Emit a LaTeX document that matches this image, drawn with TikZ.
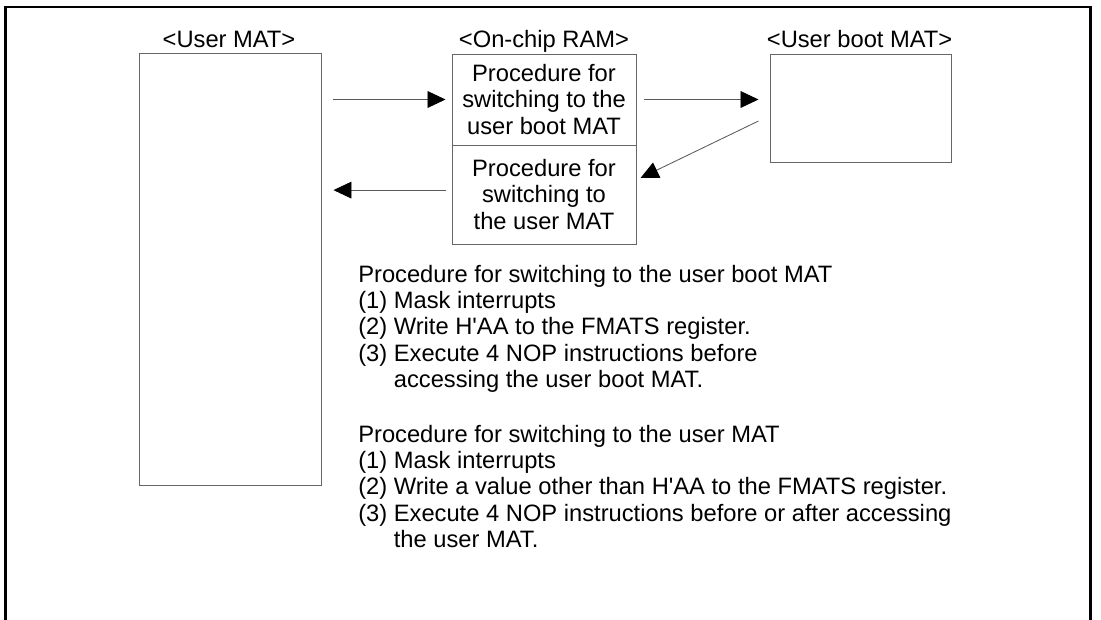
\documentclass[tikz,border=0pt]{standalone}
\usepackage{fontspec}
\setmainfont{Liberation Sans}
\usetikzlibrary{arrows.meta,positioning}

\begin{document}
\begin{tikzpicture}[
  every node/.style={font=\fontsize{16.87pt}{18.7pt}\selectfont},
  box/.style={draw=black!60, line width=0.7pt, align=center, inner sep=0pt},
  note/.style={align=left, inner sep=0pt, anchor=north west},
  flow/.style={draw=black!65, line width=0.6pt, -{Triangle[length=0.45cm, width=0.42cm, color=black]}}]
\useasboundingbox (0,0) rectangle (27.525,-15.5);

% memory areas
\node[box, minimum width=4.55cm, minimum height=10.8cm] (usermat) at (5.75,-6.725) {};
\node[box, minimum width=4.6cm, minimum height=2.275cm] (ramtop) at (13.6,-2.4875) {Procedure for\\switching to the\\user boot MAT};
\node[box, minimum width=4.6cm, minimum height=2.475cm] (rambot) at (13.6,-4.8625) {Procedure for\\switching to\\the user MAT};
\node[box, minimum width=4.525cm, minimum height=2.7cm] (bootmat) at (21.5125,-2.7) {};

\node[anchor=base] (usermatlbl) at (5.725,-1.175) {<User MAT>};
\node[anchor=base] (ramlbl) at (13.6,-1.175) {<On-chip RAM>};
\node[anchor=base] (bootmatlbl) at (21.49,-1.175) {<User boot MAT>};

% arrows
\coordinate (back) at ([yshift=0.11cm]rambot.west);
\draw[flow, shorten <=0.3cm, shorten >=0.15cm] (usermat.east |- ramtop.west) -- (ramtop.west);
\draw[flow, shorten <=0.2cm, shorten >=0.275cm] (ramtop.east) -- (ramtop.east -| bootmat.west);
\draw[flow] ([xshift=-0.275cm, yshift=-0.325cm]bootmat.west) -- ([xshift=0.1cm, yshift=0.4125cm]rambot.east);
\draw[flow, shorten <=0.15cm, shorten >=0.3cm] (back) -- (back -| usermat.east);

% procedures
\node[note] (bootsteps) at (8.95,-6.62) {Procedure for switching to the user boot MAT\\
(1) Mask interrupts\\
(2) Write H\textquotesingle AA to the FMATS register.\\
(3) Execute 4 NOP instructions before\\
\phantom{(3) }accessing the user boot MAT.};
\node[note] (usersteps) at (8.95,-10.62) {Procedure for switching to the user MAT\\
(1) Mask interrupts\\
(2) Write a value other than H\textquotesingle AA to the FMATS register.\\
(3) Execute 4 NOP instructions before or after accessing\\
\phantom{(3) }the user MAT.};

% frame
\draw[line width=1.6pt] (0.1375,-15.5) |- (27.26,-0.17) -- (27.26,-15.5);
\end{tikzpicture}
\end{document}
